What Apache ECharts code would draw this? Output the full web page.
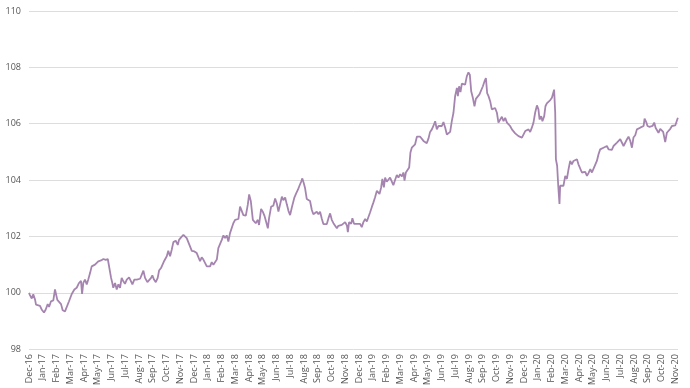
<!DOCTYPE html>
<html>
<head>
<meta charset="utf-8">
<script src="https://cdn.jsdelivr.net/npm/echarts@6/dist/echarts.min.js"></script>
<style>html,body{margin:0;padding:0;background:#fff}#c{width:690px;height:388px}</style>
</head>
<body>
<div id="c"></div>
<script>
// Tick labels (one per month, at month index 0..47)
const months = ["Dec-16","Jan-17","Feb-17","Mar-17","Apr-17","May-17","Jun-17","Jul-17","Aug-17","Sep-17","Oct-17","Nov-17",
"Dec-17","Jan-18","Feb-18","Mar-18","Apr-18","May-18","Jun-18","Jul-18","Aug-18","Sep-18","Oct-18","Nov-18",
"Dec-18","Jan-19","Feb-19","Mar-19","Apr-19","May-19","Jun-19","Jul-19","Aug-19","Sep-19","Oct-19","Nov-19",
"Dec-19","Jan-20","Feb-20","Mar-20","Apr-20","May-20","Jun-20","Jul-20","Aug-20","Sep-20","Oct-20","Nov-20"];

// Time of each observation, in months since Dec-16
const t = [0,0.07,0.20,0.31,0.44,0.51,0.63,0.80,0.92,1.09,1.21,1.36,1.46,1.60,1.77,1.89,1.96,2.06,2.20,2.33,2.45,2.62,2.74,2.91,3.11,3.30,3.47,3.64,3.78,3.86,3.95,4.07,4.20,4.31,4.44,4.56,4.68,4.80,4.93,5.04,5.24,5.41,5.58,5.73,5.84,5.97,6.06,6.13,6.26,6.38,6.50,6.62,6.74,6.86,6.98,7.11,7.28,7.42,7.52,7.66,7.84,7.95,8.08,8.20,8.32,8.44,8.61,8.73,8.88,8.97,9.09,9.22,9.36,9.46,9.60,9.73,9.84,10.02,10.13,10.26,10.38,10.50,10.67,10.82,10.91,11.06,11.23,11.35,
11.47,11.59,11.71,11.84,12.03,12.20,12.32,12.44,12.56,12.68,12.80,12.93,13.05,13.17,13.29,13.41,13.53,13.66,13.77,13.90,14.02,14.14,14.26,14.38,14.50,14.62,14.75,14.86,14.99,15.11,15.23,15.35,15.47,15.59,15.77,15.91,16.01,16.13,16.20,16.28,16.39,16.49,16.64,16.73,16.88,17.00,17.12,17.24,17.37,17.46,17.61,17.77,17.90,18.02,18.14,18.26,18.39,18.50,18.63,18.75,18.87,18.99,19.11,19.30,19.43,19.55,19.67,19.79,19.88,19.99,20.08,20.20,20.32,20.44,20.57,20.68,20.81,20.93,21.05,21.17,21.30,21.41,21.54,21.66,21.78,21.90,22.02,22.14,22.26,22.39,22.50,22.63,22.75,
22.99,23.12,23.19,23.28,23.43,23.52,23.64,23.77,23.91,24.08,24.20,24.32,24.45,24.57,24.69,24.81,24.93,25.05,25.17,25.30,25.41,25.49,25.61,25.70,25.81,25.90,26.02,26.14,26.26,26.39,26.50,26.63,26.75,26.87,26.99,27.12,27.23,27.31,27.41,27.55,27.65,27.74,27.84,27.96,28.08,28.21,28.32,28.45,28.57,28.69,28.81,28.93,29.05,29.17,29.30,29.41,29.54,29.66,29.78,29.90,30.03,30.14,30.27,30.39,30.51,30.63,30.75,30.87,30.99,31.12,31.19,31.28,31.38,31.48,31.60,31.72,31.84,31.96,32.06,32.16,32.28,32.40,32.50,32.64,32.76,32.89,33.01,33.13,33.23,33.32,33.42,33.54,33.66,33.78,33.90,34.03,34.14,34.27,34.39,34.51,34.63,34.76,
34.99,35.12,35.23,35.36,35.48,35.60,35.72,35.85,35.96,36.09,36.21,36.33,36.45,36.57,36.69,36.81,36.94,37.05,37.13,37.25,37.34,37.47,37.56,37.66,37.78,37.91,38.03,38.10,38.19,38.27,38.32,38.41,38.49,38.58,38.63,38.75,38.87,39.00,39.12,39.24,39.36,39.48,39.60,39.72,39.85,39.96,40.09,40.21,40.33,40.45,40.58,40.69,40.82,40.94,41.06,41.18,41.30,41.42,41.54,41.67,41.78,41.91,42.03,42.15,42.27,42.39,42.51,42.64,42.76,42.88,43.00,43.12,43.24,43.36,43.49,43.60,43.73,43.85,43.96,44.09,44.21,44.33,44.45,44.58,44.70,44.77,44.89,44.98,45.13,45.23,45.35,45.47,45.57,45.67,45.78,45.91,46.03,46.12,46.27,46.39,46.51,46.64,46.76,46.88,47.00,47.12,47.19];

// Index values
const v = [100.0,99.92,99.8,99.95,99.76,99.58,99.63,99.54,99.41,99.3,99.4,99.6,99.5,99.7,99.73,100.12,100.15,99.75,99.7,99.6,99.38,99.34,99.38,99.7,99.96,100.12,100.18,100.35,100.43,99.96,100.35,100.47,100.3,100.47,100.7,100.94,100.9,101.0,100.98,101.12,101.15,101.2,101.17,101.2,101.15,100.53,100.35,100.18,100.35,100.12,100.3,100.18,100.53,100.41,100.32,100.47,100.55,100.41,100.3,100.47,100.47,100.41,100.5,100.44,100.79,100.53,100.38,100.44,100.53,100.62,100.47,100.38,100.53,100.79,100.88,100.94,101.14,101.3,101.49,101.3,101.53,101.8,101.85,101.7,101.88,101.97,102.06,102.12,
101.94,101.88,101.65,101.49,101.47,101.41,101.35,101.12,101.26,101.18,101.24,100.94,100.98,100.94,101.09,101.0,100.94,101.18,101.59,101.65,101.88,102.04,101.94,102.04,101.82,102.12,102.15,102.47,102.59,102.55,102.62,103.06,103.0,102.76,102.74,103.12,103.49,103.26,103.24,102.59,102.53,102.47,102.59,102.41,102.98,102.88,102.74,102.53,102.29,102.65,103.06,103.09,103.35,103.18,102.88,102.94,103.41,103.29,103.38,103.14,102.91,102.76,103.02,103.38,103.53,103.65,103.8,103.94,104.06,103.88,103.71,103.33,103.38,103.26,102.94,102.79,102.76,102.88,102.79,102.88,102.62,102.44,102.47,102.44,102.65,102.82,102.59,102.47,102.41,102.29,102.38,102.32,102.41,
102.51,102.39,102.15,102.51,102.45,102.65,102.45,102.51,102.45,102.45,102.33,102.51,102.62,102.53,102.56,102.86,103.04,103.21,103.39,103.62,103.68,103.51,103.74,104.04,103.74,104.09,103.94,103.92,104.09,104.04,103.82,104.01,104.18,104.09,104.21,104.13,104.27,103.98,104.27,104.21,104.45,104.98,105.15,105.19,105.27,105.54,105.59,105.54,105.56,105.39,105.33,105.31,105.47,105.71,105.8,105.92,106.09,105.8,105.92,105.98,105.92,106.06,105.86,105.62,105.56,105.71,106.09,106.39,106.98,107.27,106.98,107.33,107.12,107.42,107.47,107.39,107.68,107.82,107.74,107.15,106.92,106.62,106.88,106.88,107.04,107.09,107.33,107.51,107.62,107.09,106.98,106.8,106.51,106.45,106.56,106.39,106.04,106.09,106.25,106.09,106.21,106.04,
105.92,105.8,105.86,105.66,105.71,105.56,105.59,105.51,105.54,105.74,105.68,105.8,105.71,105.86,106.04,106.39,106.65,106.51,106.15,106.27,106.09,106.27,106.62,106.72,106.76,106.84,106.92,106.86,107.21,106.39,104.74,104.51,103.8,103.15,103.8,103.8,103.8,104.15,104.04,104.39,104.68,104.56,104.68,104.62,104.74,104.56,104.51,104.27,104.21,104.29,104.15,104.25,104.39,104.27,104.41,104.39,104.68,104.92,105.09,105.04,105.15,105.09,105.21,105.09,105.15,105.07,105.21,105.15,105.33,105.27,105.45,105.39,105.21,105.27,105.45,105.54,105.39,105.15,105.51,105.59,105.8,105.74,105.86,105.82,105.92,106.18,106.06,105.92,105.89,105.86,105.92,106.04,105.86,105.92,105.68,105.82,105.86,105.71,105.35,105.68,105.74,105.82,105.92,105.86,105.94,105.98,106.21];

const yTicks = {min: 98, max: 110, step: 2};

const chart = echarts.init(document.getElementById('c'), null, {renderer: 'canvas'});
chart.setOption({
  animation: false,
  backgroundColor: '#ffffff',
  grid: {left: 29, right: 12, top: 11, bottom: 36},
  xAxis: {
    type: 'value',
    min: 0,
    max: 47.2,
    interval: 1,
    axisLine: {show: false},
    axisTick: {show: false},
    splitLine: {show: false},
    axisLabel: {
      rotate: 90,
      margin: 5,
      fontFamily: 'Open Sans',
      fontSize: 9,
      color: '#555555',
      showMaxLabel: false,
      formatter: function (val) {
        const r = Math.round(val);
        if (Math.abs(val - r) > 1e-6) return '';
        return months[r] || '';
      }
    }
  },
  yAxis: {
    type: 'value',
    min: yTicks.min,
    max: yTicks.max,
    interval: yTicks.step,
    axisLine: {show: false},
    axisTick: {show: false},
    splitLine: {lineStyle: {color: '#dddddd', width: 1}},
    axisLabel: {
      margin: 8,
      fontFamily: 'Open Sans',
      fontSize: 9,
      color: '#555555'
    }
  },
  series: [{
    type: 'line',
    data: t.map((x, i) => [x, v[i]]),
    showSymbol: false,
    symbol: 'none',
    smooth: false,
    lineStyle: {color: '#a585b0', width: 1.8},
    itemStyle: {color: '#a585b0'}
  }]
});
</script>
</body>
</html>
